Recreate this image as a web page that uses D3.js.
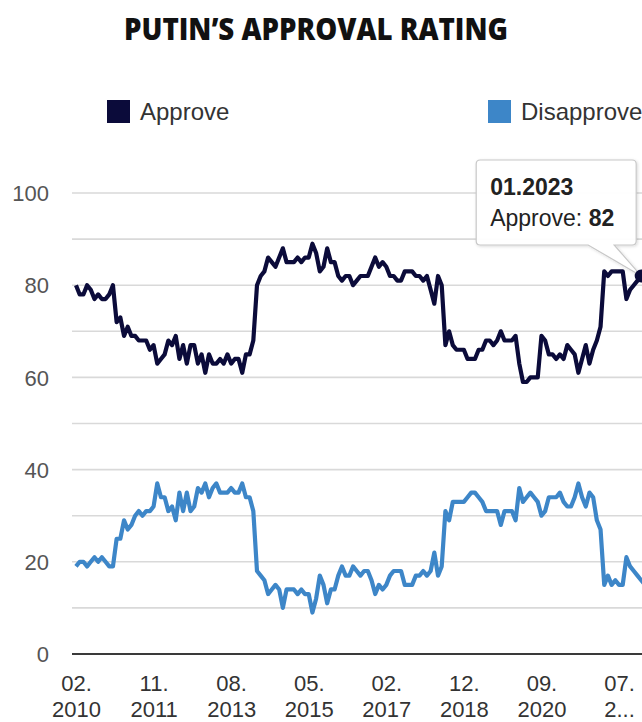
<!DOCTYPE html>
<html>
<head>
<meta charset="utf-8">
<script src="https://cdn.jsdelivr.net/npm/d3@7/dist/d3.min.js"></script>
<style>
  html, body { margin: 0; padding: 0; background: #fff; overflow: hidden; }
  svg { display: block; font-family: 'Liberation Sans', Arial, sans-serif; }
</style>
</head>
<body>
<svg id="chart" width="642" height="722"></svg>
<script>
/*
  DATA - monthly survey, 02.2010 .. 02.2023 (two months have no survey)
*/
const firstMonth = '02.2010';
const skippedMonths = ['01.2018', '01.2021'];

const approve = [
  80, 78, 78, 80, 79, 77, 78, 77, 77, 78, 80, 72, 73, 69, 71, 69, 69, 68, 68, 68,
  66, 67, 63, 64, 65, 68, 67, 69, 64, 67, 63, 67, 67, 63, 65, 61, 65, 63, 63, 64,
  63, 65, 63, 64, 64, 61, 65, 65, 68,
  80, 82, 83, 86, 85, 84, 86, 88, 85, 85, 85, 86, 85, 86, 86, 89, 87, 83, 84, 88,
  85, 85, 82, 81, 82, 82, 80, 81, 82, 82, 82, 84, 86, 84, 85, 84, 82, 82, 81, 81,
  83, 83, 83, 82, 82, 81, 82, 79, 76, 82,
  80, 67, 70, 67, 66, 66, 66, 64, 64, 64, 66, 66, 68, 68, 67, 68, 70, 68, 68, 68,
  69, 63, 59, 59, 60, 60, 60, 69, 68, 65, 65, 64, 65, 64, 67, 66, 65, 61, 64, 67,
  63, 66, 68, 71, 83, 82, 83, 83, 83, 83, 77, 79, 80, 81, 82, 83
];

const disapprove = [
  19, 20, 20, 19, 20, 21, 20, 21, 20, 19, 19, 25, 25, 29, 27, 28, 30, 31, 30, 31,
  31, 32, 37, 34, 34, 31, 32, 29, 35, 31, 35, 31, 32, 36, 35, 37, 34, 36, 37, 35,
  35, 35, 36, 35, 35, 37, 34, 34, 31,
  18, 17, 16, 13, 14, 15, 14, 10, 14, 14, 14, 13, 14, 13, 13, 9, 12, 17, 15, 11,
  14, 14, 17, 19, 17, 17, 19, 18, 17, 18, 18, 16, 13, 15, 14, 15, 17, 18, 18, 18,
  15, 15, 15, 17, 17, 18, 17, 18, 22, 17,
  19, 31, 29, 33, 33, 33, 33, 34, 35, 35, 34, 33, 31, 31, 31, 31, 28, 31, 31, 31,
  29, 36, 33, 34, 35, 34, 33, 30, 31, 34, 34, 34, 35, 33, 32, 32, 34, 37, 34, 32,
  35, 34, 29, 27, 15, 17, 15, 16, 15, 15, 21, 19, 18, 17, 16, 15
];

const gridValues = [0, 10, 20, 30, 40, 50, 60, 70, 80, 90, 100];
const yLabelValues = [0, 20, 40, 60, 80, 100];
const tickEvery = 21;
const tooltipMonth = '01.2023';

const series = [
  { name: 'Approve', values: approve, color: '#0b0b3a' },
  { name: 'Disapprove', values: disapprove, color: '#3d86c8' }
];

/*
  build category labels MM.YYYY
*/
function buildMonths(start, count, skip) {
  let parts = start.split('.');
  let m = +parts[0];
  let yr = +parts[1];
  let out = [];
  while (out.length < count) {
    let label = `${String(m).padStart(2, '0')}.${yr}`;
    if (skip.indexOf(label) < 0) out.push(label);
    m++;
    if (m > 12) { m = 1; yr++; }
  }
  return out;
}

const months = buildMonths(firstMonth, approve.length, skippedMonths);

let svg = d3.select('#chart');
let width = 642;

let x = d3.scalePoint()
  .domain(months)
  .range([76, 76 + 3.694 * (months.length - 1)]);

let y = d3.scaleLinear()
  .domain([0, 100])
  .range([654, 193]);

let plotLeft = 72;

/*
  Title + legend
*/
svg.append('text')
  .attr('x', 316)
  .attr('y', 40)
  .attr('text-anchor', 'middle')
  .attr('textLength', 384)
  .attr('lengthAdjust', 'spacingAndGlyphs')
  .style('font-family', "'Open Sans', sans-serif")
  .style('font-weight', '800')
  .style('font-size', '30px')
  .style('fill', '#111')
  .text('PUTIN\u2019S APPROVAL RATING');

let legend = svg.append('g').attr('class', 'legend');
let legendX = [107, 488];

legend.selectAll('rect')
  .data(series)
  .enter().append('rect')
  .attr('x', (d, i) => { return legendX[i]; })
  .attr('y', 100)
  .attr('width', 23)
  .attr('height', 23)
  .attr('fill', (d) => { return d.color; });

legend.selectAll('text')
  .data(series)
  .enter().append('text')
  .attr('x', (d, i) => { return legendX[i] + 33; })
  .attr('y', 120)
  .style('font-size', '24px')
  .style('fill', '#333')
  .text((d) => { return d.name; });

/*
  Grid + axes
*/
let grid = svg.append('g').attr('class', 'grid');

grid.selectAll('line')
  .data(gridValues.filter((v) => { return v > 0; }))
  .enter().append('line')
  .attr('x1', plotLeft)
  .attr('x2', width)
  .attr('y1', (d) => { return y(d); })
  .attr('y2', (d) => { return y(d); })
  .attr('stroke', '#d9d9d9')
  .attr('stroke-width', 1.6);

svg.append('line')
  .attr('x1', plotLeft)
  .attr('x2', width)
  .attr('y1', y(0))
  .attr('y2', y(0))
  .attr('stroke', '#3a3a3a')
  .attr('stroke-width', 2);

let yAxis = d3.axisLeft(y)
  .tickValues(yLabelValues)
  .tickSize(0)
  .tickPadding(0);

let yAxisG = svg.append('g')
  .attr('transform', 'translate(49,0)')
  .call(yAxis);

yAxisG.select('.domain').remove();
yAxisG.selectAll('text')
  .attr('dy', '0.35em')
  .style('font-family', "'Liberation Sans', Arial, sans-serif")
  .style('font-size', '22px')
  .style('fill', '#555');

let tickMonths = months.filter((d, i) => { return i % tickEvery === 0; });

let xAxis = d3.axisBottom(x)
  .tickValues(tickMonths)
  .tickSize(0)
  .tickFormat('');

let xAxisG = svg.append('g')
  .attr('transform', `translate(0,${y(0)})`)
  .call(xAxis);

xAxisG.select('.domain').remove();

let xLabels = xAxisG.selectAll('.tick')
  .append('text')
  .style('font-family', "'Liberation Sans', Arial, sans-serif")
  .style('font-size', '22px')
  .style('fill', '#333')
  .attr('text-anchor', 'middle');

xLabels.append('tspan')
  .attr('x', 0)
  .attr('y', 37)
  .text((d) => { return d.slice(0, 3); });

xLabels.append('tspan')
  .attr('class', 'year')
  .attr('x', 0)
  .attr('y', 63)
  .text((d) => { return d.slice(3); });

// labels running past the right edge get an ellipsis
xAxisG.selectAll('.tick').each(function(d) {
  let year = d3.select(this).select('.year');
  let right = x(d) + year.node().getComputedTextLength() / 2;
  if (right > width - 6) {
    year.text(d.slice(3, 4) + '...');
  }
});

/*
  Lines
*/
let line = d3.line()
  .x((d, i) => { return x(months[i]); })
  .y((d) => { return y(d); });

svg.append('g').attr('class', 'lines')
  .selectAll('path')
  .data(series)
  .enter().append('path')
  .attr('fill', 'none')
  .attr('stroke', (d) => { return d.color; })
  .attr('stroke-width', 4.2)
  .attr('stroke-linejoin', 'round')
  .attr('d', (d) => { return line(d.values); });

/*
  Tooltip on the hovered point
*/
let ti = months.indexOf(tooltipMonth);
let px = x(months[ti]);
let py = y(approve[ti]);

let defs = svg.append('defs');
let shadow = defs.append('filter')
  .attr('id', 'tip-shadow')
  .attr('x', '-10%').attr('y', '-10%')
  .attr('width', '130%').attr('height', '130%');
shadow.append('feDropShadow')
  .attr('dx', 1).attr('dy', 1)
  .attr('stdDeviation', 1.5)
  .attr('flood-color', '#000')
  .attr('flood-opacity', 0.15);

let boxW = 160;
let boxH = 85;
let boxR = px - 5;
let boxL = boxR - boxW;
let boxB = py - 31;
let boxT = boxB - boxH;
let r = 4;

let tipPath = [
  `M${boxL + r},${boxT}`,
  `L${boxR - r},${boxT}`,
  `Q${boxR},${boxT} ${boxR},${boxT + r}`,
  `L${boxR},${boxB - r}`,
  `Q${boxR},${boxB} ${boxR - r},${boxB}`,
  `L${boxR - 22},${boxB}`,
  `L${px},${py}`,
  `L${boxR - 48},${boxB}`,
  `L${boxL + r},${boxB}`,
  `Q${boxL},${boxB} ${boxL},${boxB - r}`,
  `L${boxL},${boxT + r}`,
  `Q${boxL},${boxT} ${boxL + r},${boxT}`,
  'Z'
].join(' ');

let tip = svg.append('g').attr('class', 'tooltip');

tip.append('path')
  .attr('d', tipPath)
  .attr('fill', 'rgba(255,255,255,0.96)')
  .attr('stroke', '#c8c8c8')
  .attr('stroke-width', 1.2)
  .style('filter', 'url(#tip-shadow)');

tip.append('text')
  .attr('x', boxL + 14)
  .attr('y', boxT + 35)
  .style('font-size', '23px')
  .style('font-weight', '700')
  .style('fill', '#222')
  .text(months[ti]);

let tipLine = tip.append('text')
  .attr('x', boxL + 14)
  .attr('y', boxT + 66)
  .style('font-size', '23px')
  .style('fill', '#222');

tipLine.append('tspan').text('Approve: ');
tipLine.append('tspan').style('font-weight', '700').text(approve[ti]);

svg.append('circle')
  .attr('cx', px)
  .attr('cy', py)
  .attr('r', 6.5)
  .attr('fill', series[0].color);
</script>
</body>
</html>
